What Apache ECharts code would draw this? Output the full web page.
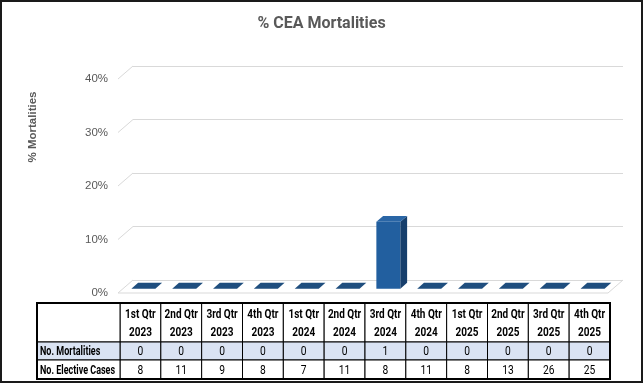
<!DOCTYPE html>
<html><head><meta charset="utf-8">
<script src="https://cdn.jsdelivr.net/npm/echarts@6/dist/echarts.min.js"></script>
<style>html,body{margin:0;padding:0;background:#fff}#c{width:643px;height:383px}</style>
</head><body><div id="c"></div>
<script>
// ---- data ----
const quarters = ['1st Qtr\n2023','2nd Qtr\n2023','3rd Qtr\n2023','4th Qtr\n2023',
                  '1st Qtr\n2024','2nd Qtr\n2024','3rd Qtr\n2024','4th Qtr\n2024',
                  '1st Qtr\n2025','2nd Qtr\n2025','3rd Qtr\n2025','4th Qtr\n2025'];
const pctMortality = [0,0,0,0,0,0,12.5,0,0,0,0,0];
const mortalities = [0,0,0,0,0,0,1,0,0,0,0,0];
const electiveCases = [8,11,9,8,7,11,8,11,8,13,26,25];
const rowLabels = ['No. Mortalities','No. Elective Cases'];
const yTicks = [0,10,20,30,40];

// ---- style / layout constants ----
const DX = 15, DY = 13;           // 3D depth offset (front -> back)
const FRONT = 0.67, DEPTH = 0.45; // bar front-face depth fraction, bar depth fraction
const BARW = 24;
const GRID_COL = '#d9d9d9';
const TXT = '#595959';
const TFONT = "Roboto, sans-serif";

const chart = echarts.init(document.getElementById('c'), null, {renderer:'canvas'});

function floorItem(params, api){
  const cs = params.coordSys;
  const ch = [];
  yTicks.forEach(t=>{
    const y = api.coord([0,t])[1];
    ch.push({type:'line', shape:{x1:cs.x, y1:y, x2:cs.x-DX, y2:y+DY},
      style:{stroke:GRID_COL, lineWidth:1}});
  });
  const y0 = api.coord([0,0])[1];
  ch.push({type:'polyline', shape:{points:[[cs.x-DX,y0+DY],[cs.x+cs.width-DX,y0+DY],[cs.x+cs.width,y0]]},
    style:{stroke:GRID_COL, lineWidth:1, fill:null}});
  return {type:'group', children:ch, silent:true};
}

function barItem(params, api){
  const i = api.value(0), v = api.value(1);
  const top = api.coord([i, v]);
  const base = api.coord([i, 0]);
  const fx = -DX*FRONT, fy = DY*FRONT;
  const dx = DX*DEPTH, dy = DY*DEPTH;
  const xl = top[0] + fx - BARW/2, xr = top[0] + fx + BARW/2;
  const yt = top[1] + fy, yb = base[1] + fy;
  const ch = [];
  if (yb - yt > 0.5){
    ch.push({type:'rect', shape:{x:xl, y:yt, width:BARW, height:yb-yt}, style:{fill:'#225f9f'}});
    ch.push({type:'polygon', shape:{points:[[xr,yt],[xr+dx,yt-dy],[xr+dx,yb-dy],[xr,yb]]}, style:{fill:'#173f6c'}});
  }
  ch.push({type:'polygon', shape:{points:[[xl,yt],[xr,yt],[xr+dx,yt-dy],[xl+dx,yt-dy]]},
    style:{fill: v>0 ? '#2a66a6' : '#1f4e7e'}});
  return {type:'group', children:ch};
}

// table rows (relative to table grid top)
const ROWS = [0, 39, 57, 76];
const ROWFILL = ['#ffffff', '#dae3f3', '#ffffff'];

function txt(text, x, y, align, font, sx, lh){
  return {type:'text', x:x, y:y, scaleX:sx,
    style:{text:text, x:0, y:0, align:align, verticalAlign:'middle', font:font, fill:'#000', lineHeight:lh||14}};
}

function tableColItem(params, api){
  const cs = params.coordSys;
  const i = api.value(0);
  const cx = api.coord([i, 0])[0];
  const w = api.size([1, 0])[0];
  const x = cx - w/2;
  const ch = [];
  for (let r=0;r<3;r++){
    ch.push({type:'rect', shape:{x:x, y:cs.y+ROWS[r], width:w, height:ROWS[r+1]-ROWS[r]},
      style:{fill:ROWFILL[r], stroke:'#000', lineWidth:1}});
  }
  ch.push(txt(quarters[i], cx, cs.y+ROWS[1]/2+1, 'center', "bold 12.5px "+TFONT, 0.8, 18));
  ch.push(txt(String(api.value(1)), cx, cs.y+(ROWS[1]+ROWS[2])/2+1, 'center', "12.5px "+TFONT, 0.82));
  ch.push(txt(String(api.value(2)), cx, cs.y+(ROWS[2]+ROWS[3])/2+1, 'center', "12.5px "+TFONT, 0.82));
  return {type:'group', children:ch};
}

const LABELW = 83;
function tableLabelItem(params, api){
  const cs = params.coordSys;
  const x = cs.x - LABELW;
  const ch = [];
  for (let r=0;r<3;r++){
    ch.push({type:'rect', shape:{x:x, y:cs.y+ROWS[r], width:LABELW, height:ROWS[r+1]-ROWS[r]},
      style:{fill:ROWFILL[r], stroke:'#000', lineWidth:1}});
  }
  rowLabels.forEach((t,k)=>{
    ch.push(txt(t, x+3, cs.y+(ROWS[k+1]+ROWS[k+2])/2+1, 'left', "bold 12.5px "+TFONT, 0.72));
  });
  ch.push({type:'rect', shape:{x:x, y:cs.y, width:LABELW+cs.width, height:ROWS[3]},
    style:{fill:null, stroke:'#000', lineWidth:2}});
  return {type:'group', children:ch};
}

const option = {
  animation:false,
  backgroundColor:'#fff',
  title:{text:'% CEA Mortalities', left:'center', top:11,
    textStyle:{color:TXT, fontSize:16, fontWeight:'bold', fontFamily:"Roboto, sans-serif"}},
  grid:[
    {left:118, right:35, top:79, bottom:90},
    {left:133, right:20, top:66, bottom:103},
    {left:120, right:33, top:303, bottom:4}
  ],
  xAxis:[
    {type:'category', gridIndex:0, data:quarters, show:false},
    {type:'category', gridIndex:1, data:quarters, show:false},
    {type:'category', gridIndex:2, data:quarters, show:false}
  ],
  yAxis:[
    {type:'value', gridIndex:0, min:0, max:40, interval:10,
      axisLine:{show:false}, axisTick:{show:false}, splitLine:{show:false},
      axisLabel:{formatter:'{value}%', color:TXT, fontSize:11.5, margin:10, fontFamily:"Liberation Sans, Arial, sans-serif"}},
    {type:'value', gridIndex:1, min:0, max:40, interval:10,
      axisLine:{show:false}, axisTick:{show:false}, axisLabel:{show:false},
      splitLine:{show:true, lineStyle:{color:GRID_COL, width:1}}},
    {type:'value', gridIndex:2, min:0, max:1, show:false}
  ],
  graphic:[
    {type:'text', x:33, y:127, rotation:Math.PI/2,
      style:{text:'% Mortalities', align:'center', verticalAlign:'middle',
        font:"bold 11.5px 'Liberation Sans', Arial, sans-serif", fill:TXT}},
    {type:'rect', shape:{x:1, y:1, width:641, height:381}, style:{fill:null, stroke:'#1a1a1a', lineWidth:2}, z:100}
  ],
  series:[
    {type:'custom', xAxisIndex:1, yAxisIndex:1, data:[[0,0]], renderItem:floorItem, z:1, silent:true},
    {type:'custom', xAxisIndex:1, yAxisIndex:1, data:pctMortality.map((v,i)=>[i,v]), renderItem:barItem, z:3},
    {type:'custom', xAxisIndex:2, yAxisIndex:2, data:quarters.map((q,i)=>[i, mortalities[i], electiveCases[i]]), renderItem:tableColItem, z:4},
    {type:'custom', xAxisIndex:2, yAxisIndex:2, data:[[0,0]], renderItem:tableLabelItem, z:5}
  ]
};
chart.setOption(option);
</script></body></html>
